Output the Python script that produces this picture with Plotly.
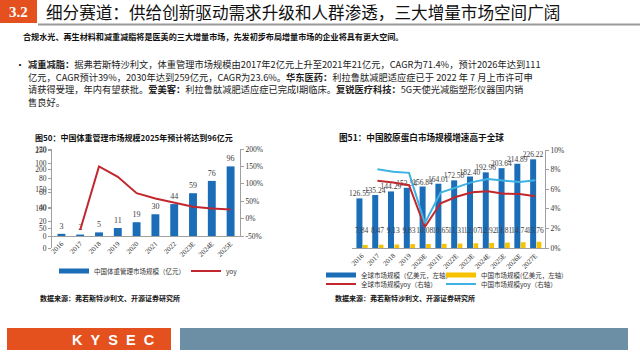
import plotly.graph_objects as go

W, H = 640, 360
def px(x): return x / W
def py(y): return 1 - y / H

# ---------------- data ----------------
years1 = ["2016", "2017", "2018", "2019", "2020", "2021", "2022", "2023E", "2024E", "2025E"]
market1 = [3, 2, 5, 11, 19, 30, 44, 59, 76, 96]
yoy1 = [None, -33, 150, 120, 73, 58, 47, 34, 29, 26]

years2 = ["2016", "2017", "2018", "2019", "2020E", "2021E", "2022E", "2023E", "2024E", "2025E", "2026E", "2027E"]
global2 = [126.55, 135.24, 144.29, 153.54, 156.84, 164.01, 172.58, 182.40, 192.96, 203.64, 214.89, 226.22]
china2 = [7.84, 8.47, 9.13, 9.83, 10.08, 10.65, 11.31, 12.07, 12.92, 13.81, 14.74, 15.76]
global_yoy2 = [None, 6.87, 6.69, 6.41, 2.15, 4.57, 5.23, 5.69, 5.79, 5.53, 5.52, 5.27]
china_yoy2 = [None, 8.04, 7.79, 7.67, 2.54, 5.65, 6.20, 6.72, 7.04, 6.89, 6.73, 6.92]

y1_ticks = [0, 20, 40, 60, 80, 100, 120]
y2_ticks = [-50, 0, 50, 100, 150, 200]
y3_ticks = [0, 50, 100, 150, 200, 250]
y4_ticks = [0, 2, 4, 6, 8, 10]

# ---------------- style ----------------
BLUE = "#1B6DB8"
RED = "#C1272D"
CYAN = "#3DB2E3"
YELLOW = "#F6C100"
ORANGE = "#E5501F"
SLATE = "#6C8FA5"
SERIF = "Liberation Serif, Times New Roman, serif"
CJK = "Noto Sans CJK SC"
CHINA_LABEL_Y = 42

fig = go.Figure()

# chart 1
fig.add_trace(go.Bar(x=years1, y=market1, marker_color=BLUE, marker_line_width=0, width=0.42,
                     text=[str(v) for v in market1], textposition="outside",
                     textfont=dict(family=SERIF, size=8, color="#404040"),
                     constraintext="none", cliponaxis=False, showlegend=False,
                     xaxis="x", yaxis="y"))
fig.add_trace(go.Scatter(x=years1, y=yoy1, mode="lines", line=dict(color=RED, width=2),
                         showlegend=False, xaxis="x", yaxis="y2"))

# chart 2
fig.add_trace(go.Bar(x=years2, y=global2, marker_color=BLUE, marker_line_width=0, width=0.38, offset=-0.33,
                     text=[f"{v:.2f}" for v in global2], textposition="outside",
                     textfont=dict(family=SERIF, size=7.5, color="#404040"),
                     constraintext="none", cliponaxis=False, showlegend=False,
                     xaxis="x2", yaxis="y3"))
fig.add_trace(go.Bar(x=years2, y=china2, marker_color=YELLOW, marker_line_width=0, width=0.3, offset=0.08,
                     showlegend=False, xaxis="x2", yaxis="y3"))
fig.add_trace(go.Scatter(x=years2, y=[CHINA_LABEL_Y] * len(years2), mode="text",
                         text=[f"{v:.2f}" for v in china2],
                         textfont=dict(family=SERIF, size=7.5, color="#404040"),
                         showlegend=False, cliponaxis=False, hoverinfo="skip",
                         xaxis="x2", yaxis="y3"))
fig.add_trace(go.Scatter(x=years2, y=global_yoy2, mode="lines", line=dict(color=RED, width=2),
                         showlegend=False, xaxis="x2", yaxis="y4"))
fig.add_trace(go.Scatter(x=years2, y=china_yoy2, mode="lines", line=dict(color=CYAN, width=2),
                         showlegend=False, xaxis="x2", yaxis="y4"))

# legend entries (one legend box per entry for exact placement)
legend_specs = [
    ("中国体重管理市场规模（亿元）", BLUE, 5, "legend", 54, 271),
    ("yoy", RED, 2, "legend2", 186, 271),
    ("全球市场规模（亿美元，左轴）", BLUE, 5, "legend3", 321, 275),
    ("中国市场规模(亿美元，左轴)", YELLOW, 5, "legend4", 441, 275),
    ("全球市场规模yoy（右轴）", RED, 2, "legend5", 321, 284),
    ("中国市场规模yoy（右轴）", CYAN, 2, "legend6", 441, 284),
]
leg_common = dict(orientation="h", bgcolor="rgba(0,0,0,0)", borderwidth=0,
                  font=dict(family=CJK, size=6.5, color="#333333"),
                  xanchor="left", yanchor="middle", itemwidth=30, tracegroupgap=0)
legend_layout = {}
for name, color, lw, lg, lx, ly in legend_specs:
    fig.add_trace(go.Scatter(x=[None], y=[None], mode="lines", name=name,
                             line=dict(color=color, width=lw), legend=lg,
                             xaxis="x", yaxis="y"))
    legend_layout[lg] = dict(x=px(lx), y=py(ly), **leg_common)

axis_common = dict(showline=True, linecolor="#A0A0A0", linewidth=1, ticks="outside",
                   tickcolor="#A0A0A0", ticklen=3, showgrid=False, zeroline=False,
                   automargin=False, type="linear",
                   tickfont=dict(family=SERIF, size=7.5, color="#333333"))
xcommon = dict(showline=True, linecolor="#A0A0A0", linewidth=1, ticks="", showgrid=False,
               zeroline=False, automargin=False, type="category",
               tickangle=-45, tickfont=dict(family=SERIF, size=7, color="#333333"))

fig.update_layout(
    template="none",
    width=W, height=H, margin=dict(l=0, r=0, t=0, b=0, pad=0, autoexpand=False),
    paper_bgcolor="white", plot_bgcolor="white", barmode="overlay",
    xaxis=dict(domain=[px(52), px(240)], anchor="y", **xcommon),
    yaxis=dict(domain=[py(236), py(149)], range=[0, 120], tickvals=y1_ticks,
               ticktext=[str(v) for v in y1_ticks], **axis_common),
    yaxis2=dict(overlaying="y", side="right", anchor="x", range=[-50, 200], tickvals=y2_ticks,
                ticktext=[f"{v}%" for v in y2_ticks], **axis_common),
    xaxis2=dict(domain=[px(352), px(545)], anchor="y3", **xcommon),
    yaxis3=dict(domain=[py(248), py(150)], range=[0, 250], tickvals=y3_ticks,
                ticktext=[str(v) for v in y3_ticks], **axis_common),
    yaxis4=dict(overlaying="y3", side="right", anchor="x2", range=[0, 10], tickvals=y4_ticks,
                ticktext=[f"{v}%" for v in y4_ticks], **axis_common),
    showlegend=True,
    hovermode=False,
    **legend_layout,
)

shapes = [
    dict(type="rect", xref="paper", yref="paper", x0=0, x1=px(37), y0=py(23), y1=py(0),
         fillcolor=ORANGE, line_width=0),
    dict(type="line", xref="paper", yref="paper", x0=px(38), x1=1, y0=py(24.5), y1=py(24.5),
         line=dict(color="#9A9A9A", width=2)),
    dict(type="rect", xref="paper", yref="paper", x0=px(7), x1=px(171), y0=py(350), y1=py(328),
         fillcolor=ORANGE, line_width=0),
    dict(type="rect", xref="paper", yref="paper", x0=px(180), x1=px(628), y0=py(350), y1=py(328),
         fillcolor=SLATE, line_width=0),
]
fig.update_layout(shapes=shapes)

def note(text, x, y, size, color="#111111", family=CJK, xanchor="left"):
    fig.add_annotation(text=text, x=px(x), y=py(y), xref="paper", yref="paper",
                       xanchor=xanchor, yanchor="middle", showarrow=False,
                       font=dict(family=family, size=size, color=color))

note("<b>3.2</b>", 18.5, 11.5, 15, "white", SERIF, "center")
note("细分赛道：供给创新驱动需求升级和人群渗透，三大增量市场空间广阔", 44, 12.5, 16.6)
note("<b>合规水光、再生材料和减重减脂将是医美的三大增量市场，先发初步布局增量市场的企业将具有更大空间。</b>", 21, 37, 8.1)
note("•", 13, 64, 10)
lines = [
    "<b>减重减脂：</b>据弗若斯特沙利文，体重管理市场规模由2017年2亿元上升至2021年21亿元，CAGR为71.4%，预计2026年达到111",
    "亿元，CAGR预计39%，2030年达到259亿元，CAGR为23.6%。<b>华东医药：</b>利拉鲁肽减肥适应症已于 2022 年 7 月上市许可申",
    "请获得受理，年内有望获批。<b>爱美客：</b>利拉鲁肽减肥适应症已完成I期临床。<b>复锐医疗科技：</b>5G天使光减脂塑形仪器国内销",
    "售良好。",
]
for i, t in enumerate(lines):
    note(t, 26, 64 + i * 12.5, 9.25, "#222222")

note("<b>图50：中国体重管理市场规模2025年预计将达到96亿元</b>", 33, 137, 8.0)
note("<b>图51：中国胶原蛋白市场规模增速高于全球</b>", 337, 137, 8.6)
note("<b>数据来源：弗若斯特沙利文、开源证券研究所</b>", 38, 298, 7.0)
note("<b>数据来源：弗若斯特沙利文、开源证券研究所</b>", 333, 298, 7.0)
note("<b>K\u00a0\u00a0Y\u00a0\u00a0S\u00a0\u00a0E\u00a0\u00a0C</b>", 113, 339.5, 14.5, "white",
     "Liberation Sans, Arial", "center")

fig.write_html("out.html", config={"displayModeBar": False, "staticPlot": True},
               post_script="document.body.style.margin='0';document.body.style.padding='0';")
